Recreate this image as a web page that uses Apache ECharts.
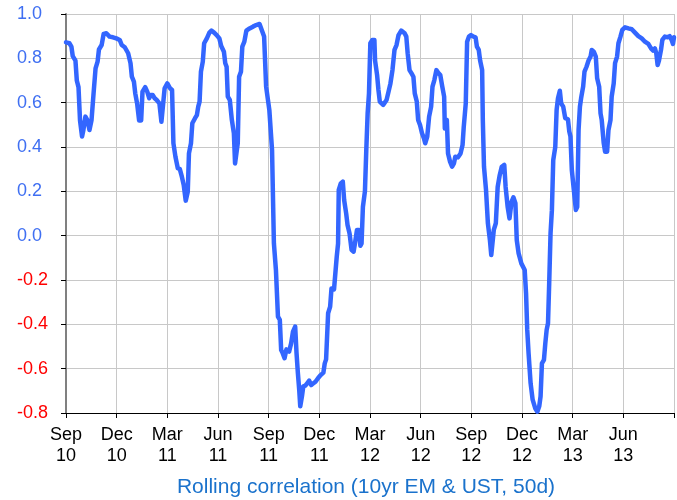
<!DOCTYPE html>
<html>
<head>
<meta charset="utf-8">
<script src="https://cdn.jsdelivr.net/npm/echarts@6/dist/echarts.min.js"></script>
<style>
html,body{margin:0;padding:0;background:#fff;}
#chart{width:677px;height:500px;}
</style>
</head>
<body>
<div id="chart"></div>
<script>
// Months since 1 Sep 2010
var months = [
0.00,0.20,0.32,0.40,0.56,0.64,0.74,0.83,0.95,1.03,1.15,1.27,1.39,1.51,1.63,1.75,1.87,1.95,2.11,2.23,
2.39,2.58,2.78,2.98,3.18,3.30,3.48,3.68,3.82,3.90,4.02,4.10,4.21,4.33,4.45,4.53,4.69,4.81,4.93,5.01,
5.13,5.25,5.37,5.53,5.65,5.73,5.84,6.00,6.16,6.28,6.36,6.48,
6.62,6.74,6.86,6.97,7.09,7.21,7.28,7.40,7.48,7.64,7.75,7.83,7.91,7.99,8.10,8.18,8.34,8.49,8.61,8.77,
8.92,9.08,9.19,9.35,9.43,9.51,9.58,9.70,9.82,9.94,10.01,10.09,10.17,10.25,10.36,10.44,10.56,10.68,
10.87,11.07,11.26,11.46,11.57,11.73,11.85,12.04,12.20,12.31,12.43,12.55,12.66,12.74,12.82,12.94,
13.05,13.21,13.33,13.44,
13.57,13.65,13.73,13.81,13.87,13.97,14.05,14.17,14.28,14.40,14.52,14.64,14.76,14.92,15.08,15.24,
15.32,15.40,15.52,15.64,15.72,15.87,15.95,16.03,16.11,16.15,16.27,16.39,16.47,16.59,16.67,16.79,
16.91,17.03,17.11,17.23,17.35,17.43,17.50,17.58,17.70,17.78,17.86,17.94,18.02,18.14,18.26,18.30,
18.42,18.50,18.58,18.78,18.98,19.10,19.21,19.33,19.45,19.57,19.69,19.85,20.05,
20.15,20.23,20.34,20.46,20.57,20.65,20.77,20.85,20.96,21.08,21.19,21.27,21.39,21.50,21.62,21.70,
21.81,21.93,22.04,22.16,22.28,22.39,22.43,22.55,22.62,22.74,22.86,22.97,23.05,23.21,23.36,23.48,
23.55,23.67,23.75,23.86,23.98,24.13,24.25,24.33,24.44,24.52,24.64,24.68,24.75,24.87,24.98,25.10,
25.18,25.26,25.33,25.45,25.56,25.68,25.80,25.95,26.03,26.15,26.26,26.38,26.49,26.61,26.69,26.80,26.96,
27.16,27.24,27.31,27.39,27.51,27.63,27.79,27.91,28.02,28.10,28.18,28.30,28.38,28.46,28.54,28.61,
28.69,28.77,28.85,28.97,29.05,29.13,29.24,29.32,29.44,29.56,29.72,29.80,29.87,29.95,30.07,30.19,
30.27,30.35,30.43,30.50,30.62,30.70,30.82,30.94,31.06,31.13,31.25,31.37,31.45,31.57,31.65,31.72,
31.84,31.92,32.04,32.12,32.24,32.31,32.43,32.51,32.63,32.71,32.83,32.94,33.10,33.30,33.50,33.69,
33.89,34.09,34.28,34.48,34.64,34.76,34.87,34.95,35.03,35.11,35.23,35.31,35.46,35.62,35.74,35.86,35.94,36.00
];
var correlation = [
0.872,0.868,0.853,0.81,0.79,0.70,0.67,0.52,0.447,0.477,0.537,0.52,0.477,0.52,0.64,0.755,0.785,0.84,0.86,0.91,
0.913,0.898,0.895,0.89,0.883,0.86,0.85,0.823,0.778,0.717,0.695,0.642,0.597,0.52,0.52,0.65,0.67,0.65,0.62,0.635,
0.635,0.62,0.612,0.597,0.514,0.514,0.665,0.687,0.665,0.657,0.417,0.356,
0.304,0.30,0.266,0.229,0.158,0.198,0.371,0.417,0.507,0.53,0.544,0.582,0.605,0.74,0.785,0.868,0.89,0.916,0.925,0.916,
0.905,0.89,0.856,0.83,0.778,0.762,0.627,0.612,0.522,0.462,0.326,0.326,0.417,0.717,0.74,0.853,0.875,0.925,
0.935,0.943,0.95,0.955,0.946,0.898,0.672,0.567,0.386,-0.035,-0.155,-0.365,-0.38,-0.516,-0.528,-0.553,
-0.513,-0.523,-0.486,-0.433,
-0.41,-0.53,-0.62,-0.696,-0.77,-0.725,-0.68,-0.677,-0.666,-0.654,-0.674,-0.666,-0.66,-0.643,-0.629,-0.618,
-0.576,-0.558,-0.35,-0.32,-0.238,-0.242,-0.245,-0.095,-0.035,0.206,0.236,0.244,0.16,0.10,0.048,0.01,
-0.065,-0.072,-0.035,0.026,0.026,-0.046,-0.035,0.13,0.20,0.386,0.552,0.642,0.868,0.883,0.883,0.79,
0.725,0.657,0.605,0.59,0.612,0.65,0.687,0.747,0.838,0.86,0.905,0.925,0.913,
0.898,0.823,0.747,0.732,0.717,0.642,0.605,0.522,0.50,0.462,0.44,0.417,0.447,0.537,0.582,0.672,
0.702,0.747,0.735,0.725,0.672,0.627,0.484,0.522,0.371,0.334,0.311,0.326,0.356,0.353,0.371,0.409,
0.49,0.597,0.875,0.898,0.905,0.898,0.895,0.853,0.838,0.79,0.747,0.522,0.311,0.206,0.056,-0.02,
-0.087,-0.087,0.026,0.056,0.22,0.273,0.311,0.319,0.22,0.13,0.078,0.153,0.173,0.146,-0.02,-0.08,-0.125,
-0.155,-0.26,-0.425,-0.531,-0.666,-0.74,-0.78,-0.794,-0.77,-0.725,-0.576,-0.56,-0.486,-0.425,-0.395,-0.215,
0.01,0.115,0.341,0.40,0.567,0.62,0.654,0.597,0.582,0.53,0.525,0.47,0.447,0.296,0.206,0.116,
0.13,0.477,0.582,0.62,0.672,0.74,0.762,0.79,0.808,0.838,0.83,0.808,0.71,0.672,0.552,0.522,
0.417,0.379,0.379,0.477,0.522,0.627,0.687,0.778,0.808,0.868,0.898,0.928,0.94,0.935,0.931,0.916,
0.90,0.89,0.875,0.865,0.845,0.835,0.845,0.823,0.77,0.79,0.838,0.883,0.898,0.895,0.90,0.883,0.865,0.895
];
var xTickLabels = ['Sep\n10','Dec\n10','Mar\n11','Jun\n11','Sep\n11','Dec\n11','Mar\n12','Jun\n12','Sep\n12','Dec\n12','Mar\n13','Jun\n13',''];
var chartTitle = 'Rolling correlation (10yr EM & UST, 50d)';

var points = months.map(function(m, i){ return [m, correlation[i]]; });
var font = "'Liberation Sans', Arial, sans-serif";

var chart = echarts.init(document.getElementById('chart'), null, {renderer:'canvas'});
chart.setOption({
  animation: false,
  backgroundColor: '#ffffff',
  title: {
    text: chartTitle,
    left: 366, top: 477, textAlign: 'center', padding: 0,
    textStyle: {color:'#1a72cc', fontFamily: font, fontSize: 21, fontWeight:'normal'}
  },
  grid: {left: 66, right: 1, top: 14, bottom: 87, containLabel: false},
  xAxis: {
    type: 'value', min: 0, max: 36, interval: 3,
    axisLine: {onZero: false, lineStyle: {color:'#000', width: 1}},
    axisTick: {length: 5, lineStyle: {color:'#000'}},
    splitLine: {show: true, lineStyle: {color:'#c8c8c8', width: 1}},
    axisLabel: {
      margin: 12, color:'#000', fontFamily: font, fontSize: 18, lineHeight: 21,
      formatter: function(v){ return xTickLabels[Math.round(v/3)] || ''; }
    }
  },
  yAxis: {
    type: 'value', min: -0.8, max: 1.0, interval: 0.2,
    axisLine: {show: true, onZero: false, lineStyle: {color:'#808080', width: 2}},
    axisTick: {show: true, length: 5, lineStyle: {color:'#000'}},
    splitLine: {show: true, lineStyle: {color:'#c8c8c8', width: 1}},
    axisLabel: {
      margin: 49, align: 'left', fontFamily: font, fontSize: 18,
      formatter: function(v){ return (Math.round(v*10)/10).toFixed(1); },
      color: function(v){ return (parseFloat(v) < -0.001) ? '#ff0000' : '#3f6ff2'; }
    }
  },
  series: [{
    type: 'line', data: points, showSymbol: false, symbol: 'none',
    lineStyle: {color:'#3366ff', width: 4.5, join:'round', cap:'round'},
    clip: false
  }]
});
</script>
</body>
</html>
